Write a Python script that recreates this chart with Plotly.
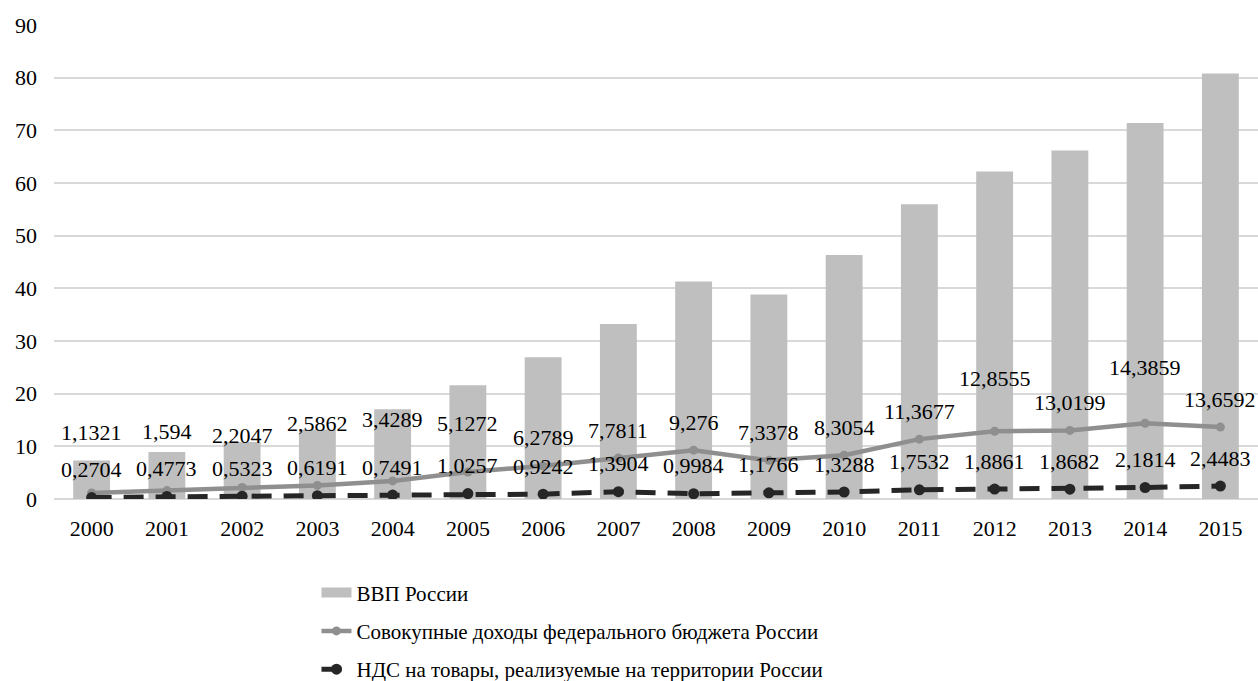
import plotly.graph_objects as go

# Years and series (trillion rubles)
years = ["2000", "2001", "2002", "2003", "2004", "2005", "2006", "2007",
         "2008", "2009", "2010", "2011", "2012", "2013", "2014", "2015"]
gdp = [7.31, 8.94, 10.82, 13.21, 17.03, 21.61, 26.92, 33.25,
       41.28, 38.81, 46.31, 55.97, 62.18, 66.19, 71.41, 80.80]
budget = [1.1321, 1.594, 2.2047, 2.5862, 3.4289, 5.1272, 6.2789, 7.7811,
          9.276, 7.3378, 8.3054, 11.3677, 12.8555, 13.0199, 14.3859, 13.6592]
vat = [0.2704, 0.4773, 0.5323, 0.6191, 0.7491, 1.0257, 0.9242, 1.3904,
       0.9984, 1.1766, 1.3288, 1.7532, 1.8861, 1.8682, 2.1814, 2.4483]

y_ticks = [0, 10, 20, 30, 40, 50, 60, 70, 80, 90]

# Extra upward lift (px) of budget labels that would collide with neighbours
budget_label_lift = [33, 31, 24, 34, 33, 21, 0, 0, 0, 0, 0, 0, 25, 0, 28, 0]

FONT = "Liberation Serif"
BAR_COLOR = "#bfbfbf"
BUDGET_COLOR = "#8f8f8f"
VAT_COLOR = "#262626"


def fmt(v):
    return str(v).replace(".", ",")


fig = go.Figure()

fig.add_trace(go.Bar(
    x=years, y=gdp, name="ВВП России",
    marker=dict(color=BAR_COLOR, line=dict(width=0)),
    showlegend=False,
))
# wide flat swatch for the bar series in the legend
fig.add_trace(go.Scatter(
    x=[None], y=[None], name="ВВП России", mode="lines",
    line=dict(color=BAR_COLOR, width=10),
    legendgroup="g1",
))
fig.add_trace(go.Scatter(
    x=years, y=budget, name="Совокупные доходы федерального бюджета России",
    mode="lines+markers",
    line=dict(color=BUDGET_COLOR, width=4.5),
    marker=dict(color=BUDGET_COLOR, size=9),
    legendgroup="g2",
))
fig.add_trace(go.Scatter(
    x=years, y=vat, name="НДС на товары, реализуемые на территории России",
    mode="lines+markers",
    line=dict(color=VAT_COLOR, width=5, dash="20px,12px"),
    marker=dict(color=VAT_COLOR, size=11),
    legendgroup="g3",
))

for i, (v, lift) in enumerate(zip(budget, budget_label_lift)):
    fig.add_annotation(
        x=i, y=v, xref="x", yref="y", text=fmt(v), showarrow=False,
        yanchor="middle", yshift=28 + lift,
        font=dict(family=FONT, size=22, color="#000000"),
    )
for i, v in enumerate(vat):
    fig.add_annotation(
        x=i, y=v, xref="x", yref="y", text=fmt(v), showarrow=False,
        yanchor="middle", yshift=28,
        font=dict(family=FONT, size=22, color="#000000"),
    )

fig.update_layout(
    width=1258, height=681,
    margin=dict(l=54, r=0, t=25, b=182, autoexpand=False),
    paper_bgcolor="white", plot_bgcolor="white",
    font=dict(family=FONT, size=22, color="#000000"),
    bargap=0.51,
    showlegend=True,
    legend=dict(
        x=0.218, y=-0.155, xanchor="left", yanchor="top",
        orientation="v", traceorder="grouped",
        tracegroupgap=8,
        font=dict(family=FONT, size=21, color="#000000"),
        bgcolor="rgba(0,0,0,0)",
    ),
)
fig.update_xaxes(
    type="category", range=[-0.5, 15.5],
    showgrid=False, showline=False, zeroline=False,
    ticks="", ticklabelstandoff=14,
    tickfont=dict(family=FONT, size=22, color="#000000"),
)
fig.update_yaxes(
    range=[0, 90], tickvals=y_ticks,
    showgrid=True, gridcolor="#d9d9d9", gridwidth=1.5,
    zeroline=True, zerolinecolor="#d9d9d9", zerolinewidth=1.5,
    showline=False, ticks="", ticklabelstandoff=16,
    tickfont=dict(family=FONT, size=22, color="#000000"),
)

fig.write_html("out.html")
